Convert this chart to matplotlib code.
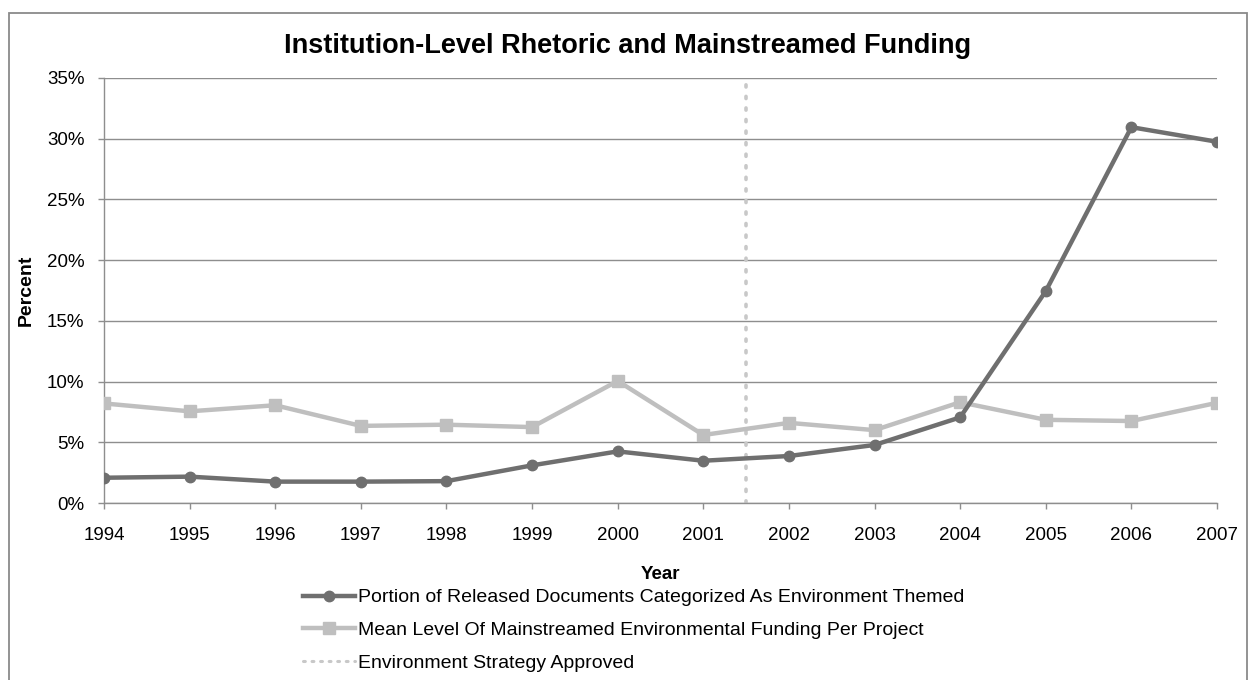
import matplotlib.pyplot as plt
from matplotlib.patches import Rectangle
from matplotlib.ticker import FuncFormatter
from matplotlib.lines import Line2D

plt.rcParams["font.family"] = ["Liberation Sans", "DejaVu Sans"]

years = [1994, 1995, 1996, 1997, 1998, 1999, 2000, 2001, 2002, 2003, 2004, 2005, 2006, 2007]
docs_env = [2.08, 2.17, 1.76, 1.76, 1.80, 3.10, 4.25, 3.48, 3.87, 4.78, 7.05, 17.45, 30.95, 29.75]
funding_env = [8.2, 7.55, 8.05, 6.35, 6.45, 6.25, 10.05, 5.6, 6.6, 6.0, 8.3, 6.85, 6.75, 8.25]
strategy_year = 2001.5

label_docs = "Portion of Released Documents Categorized As Environment Themed"
label_fund = "Mean Level Of Mainstreamed Environmental Funding Per Project"
label_strat = "Environment Strategy Approved"

DARK = "#6f6f6f"
LIGHT = "#bfbfbf"
GRID = "#8e8e8e"

W, H = 1249, 680
fig = plt.figure(figsize=(W / 100, H / 100), dpi=100)
ax = fig.add_axes([104 / W, 1 - 503 / H, (1217 - 104) / W, (503 - 78) / H])

# outer chart border
fig.patches.append(Rectangle((8.5 / W, -0.05), (1247 - 8.5) / W, 1.05 - 12.7 / H,
                             transform=fig.transFigure, fill=False,
                             edgecolor="#8a8a8a", linewidth=1.3))

ax.plot(years, funding_env, color=LIGHT, lw=3.2, marker="s", ms=8.5, zorder=3)
ax.plot(years, docs_env, color=DARK, lw=3.2, marker="o", ms=7.5, zorder=4)
ax.axvline(strategy_year, color="#c8c8c8", lw=2.6, linestyle=(0, (0.6, 2.6)),
           dash_capstyle="round", zorder=2)

ax.set_xlim(years[0], years[-1])
ax.set_ylim(0, 35)
ax.set_xticks(years)
ax.set_yticks(range(0, 36, 5))
ax.yaxis.set_major_formatter(FuncFormatter(lambda v, _: f"{v:.0f}%"))
ax.grid(axis="y", color=GRID, lw=1.0)
ax.set_axisbelow(True)
for s in ["top", "right"]:
    ax.spines[s].set_visible(False)
for s in ["left", "bottom"]:
    ax.spines[s].set_color(GRID)
    ax.spines[s].set_linewidth(1.0)
ax.tick_params(axis="x", length=4, width=1, color=GRID, pad=13, labelsize=13.5)
ax.tick_params(axis="y", length=4, width=1, color=GRID, pad=10, labelsize=13.5)

fig.text(628 / W, 1 - 46 / H, "Institution-Level Rhetoric and Mainstreamed Funding",
         ha="center", va="center", fontsize=19.5, fontweight="bold")
ax.set_ylabel("Percent", fontsize=14, fontweight="bold", labelpad=9)
ax.set_xlabel("Year", fontsize=13.5, fontweight="bold", labelpad=16)

handles = [
    Line2D([], [], color=DARK, lw=3.2, marker="o", ms=7.5),
    Line2D([], [], color=LIGHT, lw=3.2, marker="s", ms=8.5),
    Line2D([], [], color="#c8c8c8", lw=2.2, linestyle=(0, (0.6, 2.2)), dash_capstyle="round"),
]
fig.legend(handles, [label_docs, label_fund, label_strat], loc="upper left",
           bbox_to_anchor=(293 / W, 1 - 579 / H), frameon=False, fontsize=14,
           handlelength=2.7, handletextpad=0.15, labelspacing=0.78, borderpad=0)

fig.savefig("out.png", dpi=100)
